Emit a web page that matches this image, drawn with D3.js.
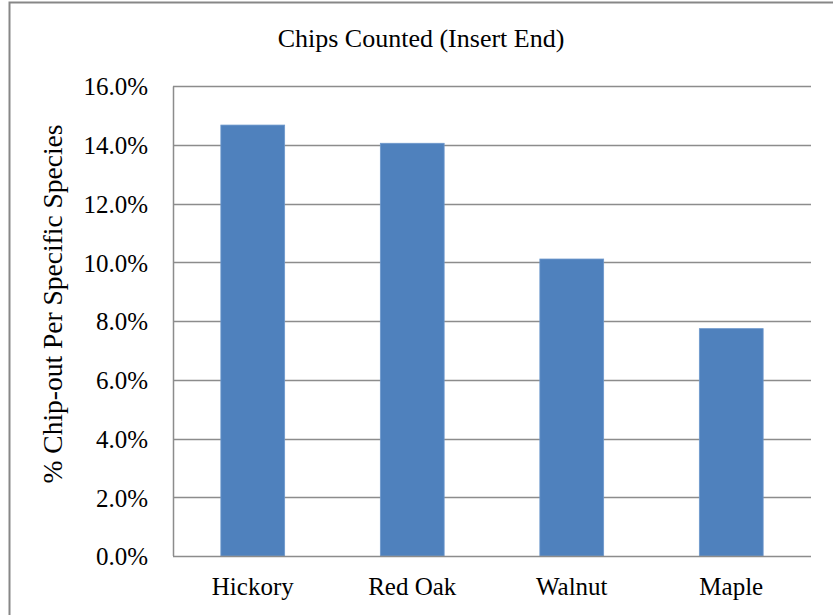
<!DOCTYPE html>
<html>
<head>
<meta charset="utf-8">
<script src="https://cdn.jsdelivr.net/npm/d3@7"></script>
<style>
  body { margin: 0; background: #fff; }
  svg { display: block; font-family: "Liberation Serif", "Times New Roman", serif; }
</style>
</head>
<body>
<div id="chart"></div>
<script>
// Chart values
const species = ["Hickory", "Red Oak", "Walnut", "Maple"];
const chipOut = [14.67, 14.05, 10.11, 7.74];
const yTicks = [0, 2, 4, 6, 8, 10, 12, 14, 16];

const W = 833, H = 615;
const margin = {top: 86, right: 22, bottom: 59, left: 173};
const width = W - margin.left - margin.right,
      height = H - margin.top - margin.bottom;

const svg = d3.select("#chart").append("svg")
    .attr("width", W)
    .attr("height", H);

// outer chart border (runs off the right/bottom edges)
svg.append("rect")
    .attr("x", 9.5).attr("y", 2.5)
    .attr("width", 840).attr("height", 640)
    .attr("fill", "none")
    .attr("stroke", "#878787")
    .attr("stroke-width", 2);

svg.append("text")
    .attr("x", 421).attr("y", 47)
    .attr("text-anchor", "middle")
    .attr("font-size", 26)
    .text("Chips Counted (Insert End)");

const g = svg.append("g")
    .attr("transform", `translate(${margin.left},${margin.top})`);

const x = d3.scaleBand().domain(species).range([0, width])
    .paddingInner(0.6).paddingOuter(0.3);
const y = d3.scaleLinear().domain([0, 16]).range([height, 0]);

// gridlines
g.selectAll(".grid")
    .data(yTicks.filter(d => d > 0))
  .enter().append("line")
    .attr("x1", 0).attr("x2", width)
    .attr("y1", d => Math.round(y(d)) + 0.5)
    .attr("y2", d => Math.round(y(d)) + 0.5)
    .attr("stroke", "#8c8c8c")
    .attr("stroke-width", 1.5);

// bars
g.selectAll(".bar")
    .data(chipOut)
  .enter().append("rect")
    .attr("x", (d, i) => x(species[i]))
    .attr("y", d => y(d))
    .attr("width", x.bandwidth())
    .attr("height", d => y(0) - y(d))
    .attr("fill", "#4f81bd")
    .attr("stroke", "#6d98cc")
    .attr("stroke-width", 0.8);

// y axis
const yAxis = g.append("g")
    .call(d3.axisLeft(y).tickValues(yTicks).tickSize(0)
      .tickFormat(d => d.toFixed(1) + "%"));
yAxis.select(".domain").attr("stroke", "#8c8c8c").attr("stroke-width", 1.5)
    .attr("d", `M0.5,0.5V${height}`);
yAxis.selectAll(".tick text")
    .attr("x", -25)
    .attr("dy", "0.35em")
    .attr("font-family", "Liberation Serif, serif")
    .attr("font-size", 25)
    .attr("fill", "#000");

// x axis
const xAxis = g.append("g")
    .attr("transform", `translate(0,${height})`)
    .call(d3.axisBottom(x).tickSize(0));
xAxis.select(".domain").attr("stroke", "#8c8c8c").attr("stroke-width", 1.5)
    .attr("d", `M0,0.5H${width}`);
xAxis.selectAll(".tick text")
    .attr("y", 39)
    .attr("dy", 0)
    .attr("font-family", "Liberation Serif, serif")
    .attr("font-size", 25)
    .attr("fill", "#000");

// y axis title
svg.append("text")
    .attr("transform", "translate(62,304) rotate(-90)")
    .attr("text-anchor", "middle")
    .attr("font-size", 27.5)
    .text("% Chip-out Per Specific Species");
</script>
</body>
</html>
